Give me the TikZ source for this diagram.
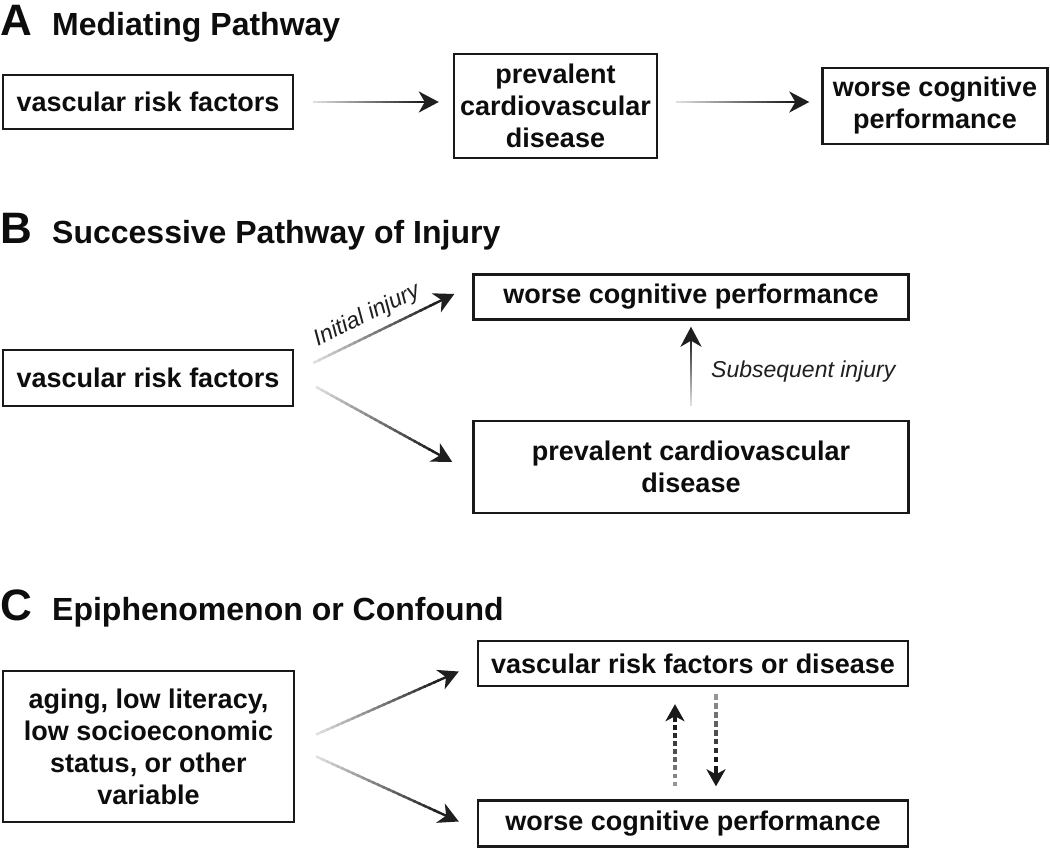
\documentclass[tikz,border=0pt]{standalone}
\usepackage{fontspec}
\setmainfont{Liberation Sans}
\usetikzlibrary{arrows.meta,calc}
\tikzset{
  box/.style={draw=black!90, line width=2.4pt, fill=white, font=\fontsize{27}{32}\selectfont\bfseries, text=black!95, align=center, inner sep=0pt},
  head/.style={anchor=base west, inner sep=0pt, font=\fontsize{32}{36}\selectfont\bfseries, text=black!95},
  letter/.style={anchor=base west, inner sep=0pt, font=\fontsize{44}{48}\selectfont\bfseries, text=black!95},
  lab/.style={font=\fontsize{23}{26}\selectfont\itshape, text=black!88, inner sep=0pt},
}
\newcommand\gradarrow[2]{%
  \foreach \kk in {1,...,24}{%
    \pgfmathsetmacro\gA{0.86*(\kk-1)/24}%
    \pgfmathsetmacro\gB{min(0.86,0.86*(\kk+0.4)/24)}%
    \pgfmathtruncatemacro\gP{10+78*\kk/24}%
    \draw[line width=2.4pt, black!\gP] ($(#1)!\gA!(#2)$) -- ($(#1)!\gB!(#2)$);
  }%
  \draw[black!88, line width=2.4pt, -{Stealth[length=20pt,width=21pt,inset=6pt]}] ($(#1)!0.85!(#2)$) -- (#2);
}
\newcommand\dasharrow[2]{%
  \foreach \kk in {1,...,8}{%
    \pgfmathsetmacro\gA{0.78*(\kk-1)/8}%
    \pgfmathsetmacro\gB{0.78*(\kk-0.4)/8}%
    \pgfmathtruncatemacro\gP{35+55*\kk/8}%
    \draw[line width=3.4pt, black!\gP] ($(#1)!\gA!(#2)$) -- ($(#1)!\gB!(#2)$);
  }%
  \draw[black!90, line width=3.4pt, -{Stealth[length=17pt,width=19pt,inset=5pt]}] ($(#1)!0.78!(#2)$) -- (#2);
}
\begin{document}
\begin{tikzpicture}[x=1pt,y=-1pt]
\useasboundingbox[fill=white] (0,0) rectangle (1050,849);
% ---------- A ----------
\node[letter] (hA) at (0,35) {A};
\node[head] (tA) at (52,35) {Mediating Pathway};
\node[box, minimum width=290, minimum height=54] (a1) at (148,102) {vascular risk factors};
\node[box, minimum width=203, minimum height=104] (a2) at (555.5,106) {prevalent\\cardiovascular\\disease};
\node[box, minimum width=225, minimum height=76] (a3) at (935,106) {worse cognitive\\performance};
\coordinate (a1s) at ($(a1.east)+(19,0)$);
\coordinate (a1e) at ($(a2.west)+(-14,-4)$);
\coordinate (a2s) at ($(a2.east)+(18,-4)$);
\coordinate (a2e) at ($(a3.west)+(-12,-4)$);
\gradarrow{a1s}{a1e}
\gradarrow{a2s}{a2e}
% ---------- B ----------
\node[letter] (hB) at (0,243) {B};
\node[head] (tB) at (52,243) {Successive Pathway of Injury};
\node[box, minimum width=290, minimum height=56] (b1) at (148,378) {vascular risk factors};
\node[box, minimum width=435, minimum height=45] (b2) at (691,297) {worse cognitive performance};
\node[box, minimum width=435, minimum height=92] (b3) at (691,467) {prevalent cardiovascular\\disease};
\coordinate (b1s1) at ($(b1.east)+(19,-15)$);
\coordinate (b1e1) at ($(b2.west)+(-18,-3)$);
\coordinate (b1s2) at ($(b1.east)+(22,9)$);
\coordinate (b1e2) at ($(b3.west)+(-20,-5)$);
\coordinate (b3n) at ($(b3.north)+(0,-14)$);
\coordinate (b2s) at ($(b2.south)+(0,6)$);
\gradarrow{b1s1}{b1e1}
\gradarrow{b1s2}{b1e2}
\gradarrow{b3n}{b2s}
\path (b1s1) -- (b1e1) node[lab, pos=0.44, sloped, above=8pt] (lini) {Initial injury};
\node[lab, anchor=base west] (lsub) at (711,377) {Subsequent injury};
% ---------- C ----------
\node[letter] (hC) at (0,620) {C};
\node[head] (tC) at (52,620) {Epiphenomenon or Confound};
\node[box, minimum width=291, minimum height=151] (c1) at (148.5,746.5) {aging, low literacy,\\low socioeconomic\\status, or other\\variable};
\node[box, minimum width=430, minimum height=45] (c2) at (693,663.5) {vascular risk factors or disease};
\node[box, minimum width=430, minimum height=46] (c3) at (693,823.5) {worse cognitive performance};
\coordinate (c1s1) at ($(c1.east)+(21,-12)$);
\coordinate (c1e1) at ($(c2.west)+(-18,8)$);
\coordinate (c1s2) at ($(c1.east)+(21,10)$);
\coordinate (c1e2) at ($(c3.west)+(-18,-2)$);
\gradarrow{c1s1}{c1e1}
\gradarrow{c1s2}{c1e2}
\coordinate (du1) at ($(c3.north)+(-18,-13)$);
\coordinate (du2) at ($(c2.south)+(-18,17)$);
\coordinate (dd1) at ($(c2.south)+(23,7)$);
\coordinate (dd2) at ($(c3.north)+(23,-13)$);
\dasharrow{du1}{du2}
\dasharrow{dd1}{dd2}
\end{tikzpicture}
\end{document}
